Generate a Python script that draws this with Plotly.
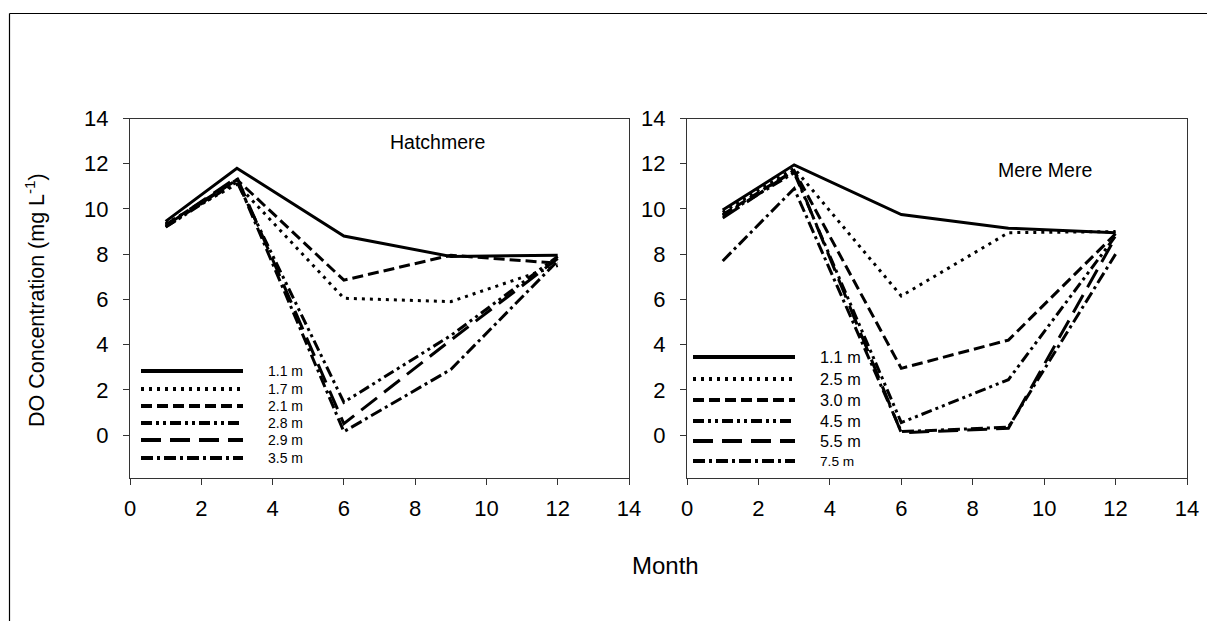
import plotly.graph_objects as go

# Sampling months
months = [1, 3, 6, 9, 12]

# Hatchmere: dissolved oxygen (mg/L) by depth
hatch_depths = ["1.1 m", "1.7 m", "2.1 m", "2.8 m", "2.9 m", "3.5 m"]
hatch_1_1 = [9.45, 11.8, 8.8, 7.9, 7.95]
hatch_1_7 = [9.35, 11.1, 6.05, 5.9, 7.5]
hatch_2_1 = [9.3, 11.3, 6.85, 7.95, 7.6]
hatch_2_8 = [9.2, 11.2, 1.45, 4.4, 7.9]
hatch_2_9 = [9.25, 11.4, 0.5, 4.2, 7.8]
hatch_3_5 = [9.2, 11.3, 0.15, 2.9, 7.7]

# Mere Mere: dissolved oxygen (mg/L) by depth
mere_depths = ["1.1 m", "2.5 m", "3.0 m", "4.5 m", "5.5 m", "7.5 m"]
mere_1_1 = [9.95, 11.95, 9.75, 9.15, 8.95]
mere_2_5 = [9.85, 11.8, 6.15, 8.95, 9.0]
mere_3_0 = [9.75, 11.7, 2.95, 4.2, 8.9]
mere_4_5 = [9.7, 11.6, 0.55, 2.45, 8.8]
mere_5_5 = [9.6, 11.7, 0.1, 0.3, 8.75]
mere_7_5 = [7.7, 10.9, 0.15, 0.35, 8.0]

tick_vals = [0, 2, 4, 6, 8, 10, 12, 14]

W, H = 1207, 621
FONT = "Liberation Sans, Arial, sans-serif"

# line styles shared by the depth series (shallow -> deep)
dashes = ["solid", "3px,5px", "11px,5px", "11px,4px,3px,4px,3px,4px",
          "20px,9px", "12px,4px,3px,4px"]

hatch_series = [hatch_1_1, hatch_1_7, hatch_2_1, hatch_2_8, hatch_2_9, hatch_3_5]
mere_series = [mere_1_1, mere_2_5, mere_3_0, mere_4_5, mere_5_5, mere_7_5]


def px_x(p):
    """pixel column -> paper fraction"""
    return p / W


def px_y(p):
    """pixel row -> paper fraction"""
    return 1 - p / H


fig = go.Figure()

for name, vals, d in zip(hatch_depths, hatch_series, dashes):
    fig.add_trace(go.Scatter(x=months, y=vals, mode="lines", name=name,
                             line=dict(color="black", width=3, dash=d),
                             xaxis="x", yaxis="y", showlegend=False))
for name, vals, d in zip(mere_depths, mere_series, dashes):
    fig.add_trace(go.Scatter(x=months, y=vals, mode="lines", name=name,
                             line=dict(color="black", width=3, dash=d),
                             xaxis="x2", yaxis="y2", showlegend=False))

# panel geometry in pixels
left_x = (130, 629)
right_x = (687, 1187)
top_y, bot_y = 118.5, 478

axis_common = dict(
    showline=True, linecolor="#333", linewidth=1, mirror=True,
    ticks="outside", ticklen=6, tickcolor="#333", tickwidth=1,
    showgrid=False, zeroline=False, automargin=False,
    tickfont=dict(family=FONT, size=22, color="black"),
)

fig.update_layout(
    template="none",
    width=W, height=H,
    margin=dict(l=0, r=0, t=0, b=0, autoexpand=False),
    paper_bgcolor="white", plot_bgcolor="white",
    xaxis=dict(domain=[px_x(left_x[0]), px_x(left_x[1])], range=[0, 14],
               tickvals=tick_vals, anchor="y", ticklabelstandoff=5, **axis_common),
    yaxis=dict(domain=[px_y(bot_y), px_y(top_y)], range=[-1.9, 14],
               tickvals=tick_vals, anchor="x", ticklabelstandoff=10, **axis_common),
    xaxis2=dict(domain=[px_x(right_x[0]), px_x(right_x[1])], range=[0, 14],
                tickvals=tick_vals, anchor="y2", ticklabelstandoff=5, **axis_common),
    yaxis2=dict(domain=[px_y(bot_y), px_y(top_y)], range=[-1.9, 14],
                tickvals=tick_vals, anchor="x2", ticklabelstandoff=10, **axis_common),
)

shapes = []
annotations = []


def label(x, y, text, size, xanchor="center", **kw):
    annotations.append(dict(xref="paper", yref="paper", x=px_x(x), y=px_y(y),
                            text=text, showarrow=False, xanchor=xanchor,
                            yanchor="middle",
                            font=dict(family=FONT, size=size, color="black"), **kw))


# outer frame: top and left edges
frame = dict(color="black", width=1.2)
shapes.append(dict(type="line", xref="paper", yref="paper",
                   x0=px_x(9.5), x1=1, y0=px_y(13.5), y1=px_y(13.5), line=frame))
shapes.append(dict(type="line", xref="paper", yref="paper",
                   x0=px_x(9.5), x1=px_x(9.5), y0=0, y1=px_y(13.5), line=frame))

# legend keys
left_rows = [371, 389, 406, 423, 440, 458]
right_rows = [357, 379, 400, 421, 441, 461]
for labels, rows, (lx0, lx1), tx, sizes in [
    (hatch_depths, left_rows, (141, 243), 266, [14] * 6),
    (mere_depths, right_rows, (693, 795), 818, [16.3] * 5 + [13.7]),
]:
    for lab, yy, d, fs in zip(labels, rows, dashes, sizes):
        shapes.append(dict(type="line", xref="paper", yref="paper",
                           x0=px_x(lx0), x1=px_x(lx1), y0=px_y(yy), y1=px_y(yy),
                           line=dict(color="black", width=4, dash=d)))
        label(tx, yy, lab, fs, xanchor="left")

# panel names
label(437, 142, "Hatchmere", 19.5)
label(1045, 170, "Mere Mere", 19.5)

# axis titles
label(35, 300, "DO Concentration (mg L<sup>-1</sup>)", 21.5, textangle=-90)
label(665, 565, "Month", 24)

fig.update_layout(shapes=shapes, annotations=annotations)

fig.write_html("out.html")
